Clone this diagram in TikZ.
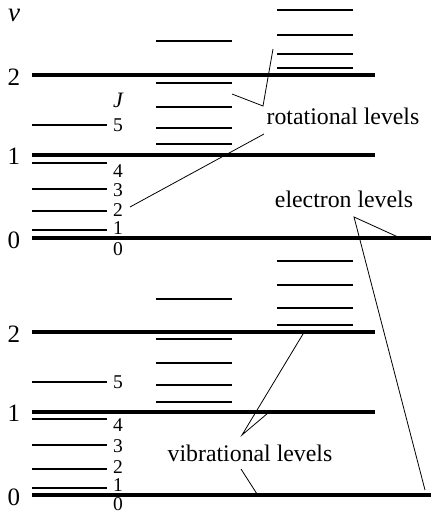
\documentclass[tikz,border=0pt]{standalone}
\usepackage{fontspec}
\setmainfont{Liberation Serif}
\begin{document}
\begin{tikzpicture}[x=1pt,y=-1pt,
  vlevel/.style={line width=3.6pt},
  rlevel/.style={line width=1.8pt},
  callout/.style={line width=0.8pt},
  bigtxt/.style={inner sep=0pt,font=\fontsize{23.8}{28}\selectfont},
  numtxt/.style={inner sep=0pt,font=\fontsize{25}{30}\selectfont},
  smalltxt/.style={inner sep=0pt,font=\fontsize{19.5}{23}\selectfont}]
\useasboundingbox (0,0) rectangle (431,512);
% ---------- upper system ----------
\node[numtxt,font=\fontsize{27}{30}\selectfont\itshape] (vlab) at (14,15) {v};
\node[numtxt] (u2) at (14,77) {2};
\node[numtxt] (u1) at (14,156) {1};
\node[numtxt] (u0) at (14,240) {0};
\coordinate (u2a) at (32,75);  \coordinate (u2b) at (375,75);
\coordinate (u1a) at (32,155); \coordinate (u1b) at (375,155);
\coordinate (u0a) at (32,238); \coordinate (u0b) at (431,238);
\draw[vlevel] (u2a) -- (u2b);
\draw[vlevel] (u1a) -- (u1b);
\draw[vlevel] (u0a) -- (u0b);
% column 1
\foreach \y in {125,163,189,211,230}{
  \draw[rlevel] (32,\y) -- (107,\y);
}
\node[smalltxt,font=\fontsize{22}{26}\selectfont\itshape] (Jlab) at (118,100) {J};
\node[smalltxt] (uj5) at (118,125) {5};
\node[smalltxt] (uj4) at (118,171) {4};
\node[smalltxt] (uj3) at (118,190) {3};
\node[smalltxt] (uj2) at (118,210) {2};
\node[smalltxt] (uj1) at (118,228) {1};
\node[smalltxt] (uj0) at (118,249) {0};
% column 2
\foreach \y in {41,83,107,128,144}{
  \draw[rlevel] (156,\y) -- (232,\y);
}
% column 3
\foreach \y in {10,35,54,68}{
  \draw[rlevel] (277,\y) -- (353,\y);
}
% callouts upper
\node[bigtxt,anchor=base] (rot) at (343,124) {rotational levels};
\coordinate (ra) at (232,94);
\coordinate (rb) at (263,106);
\coordinate (rc) at (273,49);
\coordinate (rd) at (264,134);
\coordinate (re) at (130,207);
\draw[callout] (ra) -- (rb) -- (rc);
\draw[callout] (rd) -- (re);
\node[bigtxt,anchor=base] (ele) at (344,207) {electron levels};
\coordinate (ea) at (398,237);
\coordinate (eb) at (354,217);
\coordinate (ec) at (425,490);
\draw[callout] (ea) -- (eb) -- (ec);
% ---------- lower system ----------
\node[numtxt] (l2) at (14,334) {2};
\node[numtxt] (l1) at (14,413) {1};
\node[numtxt] (l0) at (14,497) {0};
\coordinate (l2a) at (32,332);  \coordinate (l2b) at (375,332);
\coordinate (l1a) at (32,412);  \coordinate (l1b) at (375,412);
\coordinate (l0a) at (32,495);  \coordinate (l0b) at (431,495);
\draw[vlevel] (l2a) -- (l2b);
\draw[vlevel] (l1a) -- (l1b);
\draw[vlevel] (l0a) -- (l0b);
\foreach \y in {382,419,445,469,488}{
  \draw[rlevel] (32,\y) -- (107,\y);
}
\node[smalltxt] (lj5) at (118,382) {5};
\node[smalltxt] (lj4) at (118,425) {4};
\node[smalltxt] (lj3) at (118,446) {3};
\node[smalltxt] (lj2) at (118,467) {2};
\node[smalltxt] (lj1) at (118,485) {1};
\node[smalltxt] (lj0) at (118,504) {0};
\foreach \y in {299,339,363,385,402}{
  \draw[rlevel] (156,\y) -- (232,\y);
}
\foreach \y in {261,285,308,325}{
  \draw[rlevel] (277,\y) -- (353,\y);
}
\node[bigtxt,anchor=base] (vib) at (250,461) {vibrational levels};
\coordinate (va) at (303,334);
\coordinate (vb) at (242,435);
\coordinate (vc) at (268,413);
\coordinate (vd) at (241,469);
\coordinate (ve) at (257,494);
\draw[callout] (va) -- (vb) -- (vc);
\draw[callout] (vd) -- (ve);
\end{tikzpicture}
\end{document}
